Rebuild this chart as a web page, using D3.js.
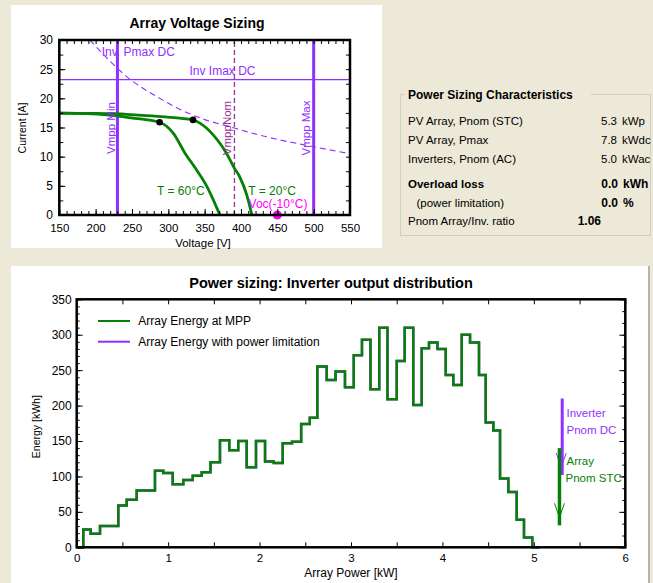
<!DOCTYPE html>
<html>
<head>
<meta charset="utf-8">
<script src="https://cdn.jsdelivr.net/npm/d3@7"></script>
<style>
  body { margin: 0; background: #ece9d8; }
  svg { display: block; font-family: "Liberation Sans", Arial, sans-serif; }
  .frame { fill: none; stroke: #000; stroke-width: 2.5; }
  .axis path { display: none; }
  .axis line { stroke: #000; stroke-width: 1; }
  .axis text { font-family: "Liberation Sans", Arial, sans-serif; font-size: 12px; fill: #000; }
  .axis.small text { font-size: 11.5px; }
</style>
</head>
<body>
<svg width="653" height="583"></svg>
<script>
// ---------- Array voltage sizing (top left) ----------
var voltTicks = [150, 200, 250, 300, 350, 400, 450, 500, 550];
var currentTicks = [0, 5, 10, 15, 20, 25, 30];
// I-V curves [V, A]
var iv20 = [[150, 17.45], [200, 17.4], [243, 17.26], [290, 16.85], [334, 16.3], [344, 15.7], [362, 13.7],
            [371, 12.3], [380, 10.6], [391, 8.0], [398, 6.6], [408, 3.4], [415, 0]];
var iv60 = [[150, 17.45], [196, 17.35], [243, 16.75], [261, 16.46], [288, 15.9], [307, 14.0], [323, 10.6],
            [339, 7.7], [353, 4.9], [364, 2.0], [371, 0]];
var mppPoints = [[288, 15.9], [334, 16.3]];
var pmaxDC = [[192, 30], [247, 23.3], [284, 20.3], [334, 17.1], [391, 14.9], [435, 13.4], [500, 11.7], [550, 10.5]];
var vmppMin = 230, vmppMax = 500, vmppNom = 391, imaxDC = 23.2, vocMinus10 = 450;

// ---------- Power sizing characteristics ----------
var sizingLabels = ["PV Array, Pnom (STC)", "PV Array, Pmax", "Inverters, Pnom (AC)",
                    "Overload loss", "(power limitation)", "Pnom Array/Inv. ratio"];
var sizingValues = ["5.3", "7.8", "5.0", "0.0", "0.0", "1.06"];
var sizingUnits = ["kWp", "kWdc", "kWac", "kWh", "%", ""];

// ---------- Inverter output distribution (bottom) ----------
var powerTicks = [0, 1, 2, 3, 4, 5, 6];
var energyTicks = [0, 50, 100, 150, 200, 250, 300, 350];
// left edges of the power bins [kW]; last value closes the last bin
var binEdges = [0.072, 0.153, 0.255, 0.355, 0.455, 0.547, 0.656, 0.756, 0.856, 0.947, 1.050, 1.166, 1.269,
                1.367, 1.463, 1.567, 1.669, 1.767, 1.859, 1.961, 2.060, 2.155, 2.253, 2.355, 2.455, 2.549,
                2.632, 2.734, 2.831, 2.934, 3.030, 3.120, 3.213, 3.309, 3.399, 3.500, 3.587, 3.681, 3.773,
                3.853, 3.946, 4.036, 4.119, 4.211, 4.302, 4.400, 4.473, 4.557, 4.630, 4.721, 4.812, 4.892, 4.983];
var energyMpp = [25, 19, 30, 30, 59, 67, 80, 80, 108, 105, 89, 95, 101, 106, 120, 151, 137, 150, 113, 150,
                 121, 119, 147, 149, 174, 183, 255, 236, 248, 226, 271, 293, 223, 310, 209, 263, 310, 201,
                 281, 289, 280, 243, 229, 300, 289, 243, 176, 165, 97, 78, 39, 14];
var energyLimited = energyMpp.slice(); // no overload loss: identical
var seriesNames = ["Array Energy at MPP", "Array Energy with power limitation"];
var invPnomDC = { p: 5.31, top: 210, bottom: 102 };
var arrPnomSTC = { p: 5.28, top: 140, bottom: 31 };

var GREEN = "#068006", PURPLE = "#9030ff", DARKPURPLE = "#993399", MAGENTA = "#ff00ff";

var svg = d3.select("svg");

// panels
svg.append("rect").attr("x", 11).attr("y", 5).attr("width", 371).attr("height", 243).attr("fill", "#fff");
svg.append("rect").attr("x", 11).attr("y", 266).attr("width", 637).attr("height", 317).attr("fill", "#fff");
svg.append("line").attr("x1", 649).attr("x2", 649).attr("y1", 266).attr("y2", 583)
  .attr("stroke", "#b8b5a8").attr("stroke-width", 2);

// ===== top chart =====
var xV = d3.scaleLinear().domain([150, 550]).range([59.3, 350]);
var yI = d3.scaleLinear().domain([0, 30]).range([215, 40]);

svg.append("text").attr("x", 197).attr("y", 28).attr("text-anchor", "middle")
  .style("font-size", "14px").style("font-weight", "bold").text("Array Voltage Sizing");

svg.append("clipPath").attr("id", "clipTop").append("rect")
  .attr("x", 59.3).attr("y", 40).attr("width", 350 - 59.3).attr("height", 175);

var plotTop = svg.append("g").attr("clip-path", "url(#clipTop)");

plotTop.append("path").datum(pmaxDC)
  .attr("fill", "none").attr("stroke", PURPLE).attr("stroke-width", 1.1).attr("stroke-dasharray", "6,4")
  .attr("d", d3.line().x(function(d) {return xV(d[0]);}).y(function(d) {return yI(d[1]);}).curve(d3.curveMonotoneX));

plotTop.append("line").attr("x1", xV(150)).attr("x2", xV(550)).attr("y1", yI(imaxDC)).attr("y2", yI(imaxDC))
  .attr("stroke", PURPLE).attr("stroke-width", 1.3);

[vmppMin, vmppMax].forEach(function(v) {
  plotTop.append("line").attr("x1", xV(v)).attr("x2", xV(v)).attr("y1", yI(0)).attr("y2", yI(30))
    .attr("stroke", PURPLE).attr("stroke-width", 3);
});
plotTop.append("line").attr("x1", xV(vmppNom)).attr("x2", xV(vmppNom)).attr("y1", yI(0)).attr("y2", yI(30))
  .attr("stroke", DARKPURPLE).attr("stroke-width", 1.3).attr("stroke-dasharray", "5,3");

var ivLine = d3.line().x(function(d) {return xV(d[0]);}).y(function(d) {return yI(d[1]);}).curve(d3.curveMonotoneX);
[iv60, iv20].forEach(function(c) {
  plotTop.append("path").datum(c).attr("fill", "none").attr("stroke", GREEN).attr("stroke-width", 2.8).attr("d", ivLine);
});

plotTop.selectAll("circle.mpp").data(mppPoints).enter().append("circle").attr("class", "mpp")
  .attr("cx", function(d) {return xV(d[0]);}).attr("cy", function(d) {return yI(d[1]);})
  .attr("r", 3.3).attr("fill", "#000");

svg.append("circle").attr("cx", xV(vocMinus10)).attr("cy", yI(0)).attr("r", 4.5).attr("fill", MAGENTA);

// labels
function label(x, y, txt, color, size, rot, anchor) {
  var t = svg.append("text").attr("fill", color).style("font-size", size + "px").text(txt);
  if (rot) {
    t.attr("transform", "translate(" + x + "," + y + ") rotate(-90)").attr("text-anchor", "middle").attr("dy", "0.35em");
  } else {
    t.attr("x", x).attr("y", y).attr("text-anchor", anchor || "start");
  }
  return t;
}
label(101.7, 56, "Inv. Pmax DC", PURPLE, 12);
label(222.5, 75, "Inv Imax DC", PURPLE, 12, false, "middle");
label(110.5, 128, "Vmpp Min", PURPLE, 11.5, true);
label(306, 128, "Vmpp Max", PURPLE, 11.5, true);
label(227, 128, "VmppNom", DARKPURPLE, 11.5, true);
label(157, 195, "T = 60\u00b0C", GREEN, 12);
label(248.3, 195, "T = 20\u00b0C", GREEN, 12);
label(278, 207.5, "Voc(-10\u00b0C)", MAGENTA, 12, false, "middle");

// axes top chart
svg.append("g").attr("class", "axis small").attr("transform", "translate(0,215)")
  .call(d3.axisBottom(xV).tickValues(voltTicks).tickSize(-6).tickPadding(8.5));
svg.append("g").attr("class", "axis").attr("transform", "translate(0,215)")
  .call(d3.axisBottom(xV).tickValues(d3.range(150, 551, 10)).tickSize(-4).tickFormat(""));
svg.append("g").attr("class", "axis").attr("transform", "translate(0,40)")
  .call(d3.axisTop(xV).tickValues(d3.range(150, 551, 10)).tickSize(-4).tickFormat(""));
svg.append("g").attr("class", "axis").attr("transform", "translate(59.3,0)")
  .call(d3.axisLeft(yI).tickValues(currentTicks).tickSize(-6).tickPadding(6.3));
svg.append("g").attr("class", "axis").attr("transform", "translate(59.3,0)")
  .call(d3.axisLeft(yI).tickValues(d3.range(0, 30.1, 2.5)).tickSize(-4).tickFormat(""));
svg.append("g").attr("class", "axis").attr("transform", "translate(350,0)")
  .call(d3.axisRight(yI).tickValues(d3.range(0, 30.1, 2.5)).tickSize(-4).tickFormat(""));
svg.append("rect").attr("class", "frame").attr("x", 59.3).attr("y", 40).attr("width", 350 - 59.3).attr("height", 175);

label(203, 246.5, "Voltage [V]", "#000", 11.5, false, "middle");
label(22.7, 128, "Current [A]", "#000", 10.5, true);

// ===== power sizing characteristics =====
var gb = svg.append("g");
gb.append("rect").attr("x", 400.5).attr("y", 94.5).attr("width", 250).attr("height", 141)
  .attr("fill", "none").attr("stroke", "#d0d0bf").attr("stroke-width", 1);
gb.append("rect").attr("x", 405).attr("y", 87).attr("width", 186).attr("height", 14).attr("fill", "#ece9d8");
gb.append("text").attr("x", 408).attr("y", 99).style("font-size", "12px").style("font-weight", "bold")
  .text("Power Sizing Characteristics");

var rowY = [125, 144, 163, 188, 207, 225];
sizingLabels.forEach(function(s, i) {
  var bold = (i >= 3);
  gb.append("text").attr("x", i === 4 ? 416.5 : 408).attr("y", rowY[i])
    .style("font-size", "11.5px").style("font-weight", i === 3 ? "bold" : "normal").text(s);
  gb.append("text").attr("x", i === 5 ? 601 : (bold ? 618 : 617)).attr("y", rowY[i]).attr("text-anchor", "end")
    .style("font-size", bold ? "12px" : "11.5px").style("font-weight", bold ? "bold" : "normal").text(sizingValues[i]);
  gb.append("text").attr("x", bold ? 623 : 622).attr("y", rowY[i])
    .style("font-size", bold ? "12px" : "11.5px").style("font-weight", bold ? "bold" : "normal").text(sizingUnits[i]);
});

// ===== bottom chart =====
var xP = d3.scaleLinear().domain([0, 6]).range([76.7, 625.3]);
var yE = d3.scaleLinear().domain([0, 350]).range([547.3, 299.3]);

svg.append("text").attr("x", 331).attr("y", 288).attr("text-anchor", "middle")
  .style("font-size", "14.5px").style("font-weight", "bold").text("Power sizing: Inverter output distribution");

function stepPoints(vals) {
  var pts = [[0, 0]];
  vals.forEach(function(v, i) { pts.push([binEdges[i], v]); });
  pts.push([binEdges[binEdges.length - 1], 0]);
  pts.push([5.06, 0]);
  return pts;
}
var stepLine = d3.line().x(function(d) {return xP(d[0]);}).y(function(d) {return yE(d[1]);}).curve(d3.curveStepAfter);

svg.append("path").datum(stepPoints(energyLimited)).attr("fill", "none").attr("stroke", PURPLE)
  .attr("stroke-width", 2.5).attr("d", stepLine);
svg.append("path").datum(stepPoints(energyMpp)).attr("fill", "none").attr("stroke", GREEN)
  .attr("stroke-width", 2.5).attr("d", stepLine);

// reference markers
function marker(m, color, w) {
  var x = xP(m.p);
  svg.append("line").attr("x1", x).attr("x2", x).attr("y1", yE(m.top)).attr("y2", yE(m.bottom))
    .attr("stroke", color).attr("stroke-width", w);
}
marker(invPnomDC, PURPLE, 3);
var xa = xP(invPnomDC.p) - 1, ya = yE(invPnomDC.bottom) - 8;
svg.append("path").attr("d", "M" + (xa - 5) + "," + (ya - 14) + "L" + xa + "," + ya + "L" + (xa + 5) + "," + (ya - 14))
  .attr("fill", "none").attr("stroke", PURPLE).attr("stroke-width", 1);
marker(arrPnomSTC, GREEN, 3.5);
var xg = xP(arrPnomSTC.p), yg = yE(arrPnomSTC.bottom) - 8;
svg.append("path").attr("d", "M" + (xg - 5) + "," + (yg - 14) + "L" + xg + "," + yg + "L" + (xg + 5) + "," + (yg - 14))
  .attr("fill", "none").attr("stroke", GREEN).attr("stroke-width", 1);

label(566.5, 416.5, "Inverter", PURPLE, 11.5);
label(566.5, 433.5, "Pnom DC", PURPLE, 11.5);
label(566.5, 465, "Array", GREEN, 11.5);
label(565.5, 482, "Pnom STC", GREEN, 11.5);

// legend
var legend = svg.append("g");
[GREEN, PURPLE].forEach(function(c, i) {
  var y = 321 + i * 20.7;
  legend.append("line").attr("x1", 98).attr("x2", 130).attr("y1", y).attr("y2", y).attr("stroke", c).attr("stroke-width", 2);
  legend.append("text").attr("x", 138.3).attr("y", y + 4.3).style("font-size", "12px").text(seriesNames[i]);
});

// axes bottom chart
svg.append("g").attr("class", "axis small").attr("transform", "translate(0,547.3)")
  .call(d3.axisBottom(xP).tickValues(powerTicks).tickFormat(d3.format("d")).tickSize(-5).tickPadding(6.5));
svg.append("g").attr("class", "axis").attr("transform", "translate(0,547.3)")
  .call(d3.axisBottom(xP).tickValues(d3.range(0.5, 6, 1)).tickSize(-5).tickFormat(""));
svg.append("g").attr("class", "axis").attr("transform", "translate(0,299.3)")
  .call(d3.axisTop(xP).tickValues(d3.range(0, 6.01, 0.5)).tickSize(-5).tickFormat(""));
svg.append("g").attr("class", "axis").attr("transform", "translate(76.7,0)")
  .call(d3.axisLeft(yE).tickValues(energyTicks).tickSize(-6).tickPadding(5));
svg.append("g").attr("class", "axis").attr("transform", "translate(76.7,0)")
  .call(d3.axisLeft(yE).tickValues(d3.range(0, 351, 10)).tickSize(-3).tickFormat(""));
svg.append("g").attr("class", "axis").attr("transform", "translate(625.3,0)")
  .call(d3.axisRight(yE).tickValues(d3.range(0, 351, 50 / 3)).tickSize(-3).tickFormat(""));
svg.append("g").attr("class", "axis").attr("transform", "translate(625.3,0)")
  .call(d3.axisRight(yE).tickValues(energyTicks).tickSize(-6).tickFormat(""));
svg.append("rect").attr("class", "frame").attr("x", 76.7).attr("y", 299.3).attr("width", 625.3 - 76.7).attr("height", 248);

label(351, 577, "Array Power [kW]", "#000", 12, false, "middle");
label(36.7, 426.7, "Energy [kWh]", "#000", 10.5, true);
</script>
</body>
</html>
